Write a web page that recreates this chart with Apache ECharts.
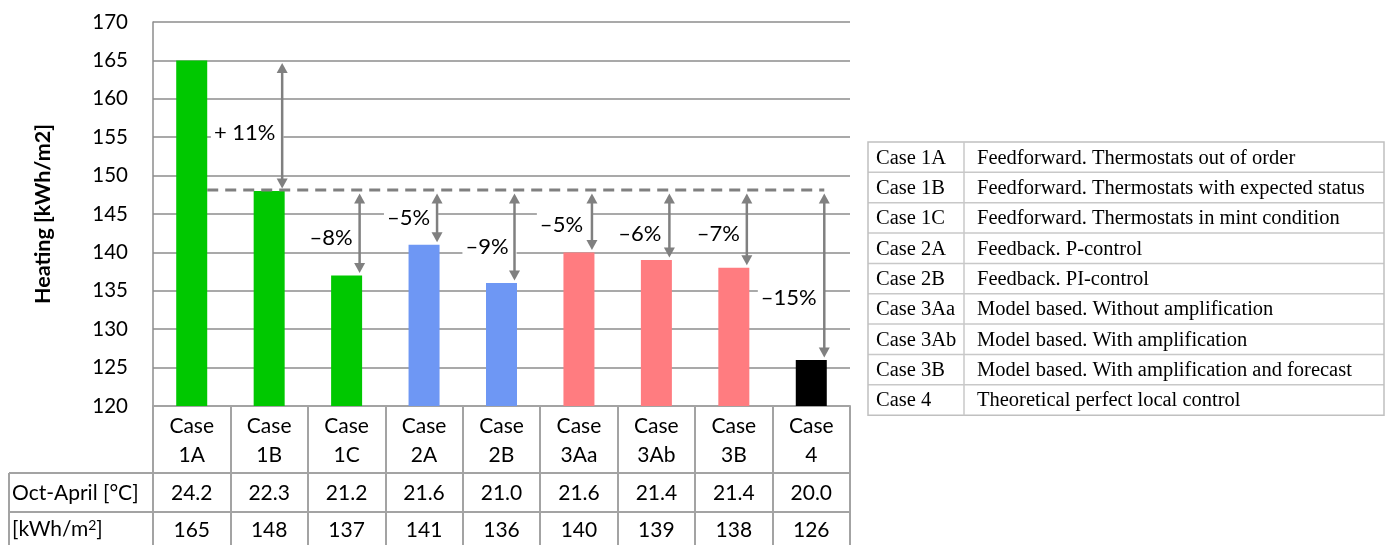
<!DOCTYPE html>
<html>
<head>
<meta charset="utf-8">
<script src="https://cdn.jsdelivr.net/npm/echarts@6/dist/echarts.min.js"></script>
<style>
  html, body { margin: 0; padding: 0; background: #fff; }
  #chart { width: 1389px; height: 545px; }
</style>
</head>
<body>
<div id="chart"></div>
<script>
// ---- Data: annual heating demand per control strategy (Oct–April) ----
const cases = ['Case 1A', 'Case 1B', 'Case 1C', 'Case 2A', 'Case 2B', 'Case 3Aa', 'Case 3Ab', 'Case 3B', 'Case 4'];
const heating = [165, 148, 137, 141, 136, 140, 139, 138, 126];          // kWh/m2
const indoorTemp = ['24.2', '22.3', '21.2', '21.6', '21.0', '21.6', '21.4', '21.4', '20.0']; // °C
const changeText = ['+ 11%', '', '–8%', '–5%', '–9%', '–5%', '–6%', '–7%', '–15%'];
const baselineIndex = 1; // Case 1B: thermostats with expected status
const descriptions = [
  'Feedforward. Thermostats out of order',
  'Feedforward. Thermostats with expected status',
  'Feedforward. Thermostats in mint condition',
  'Feedback. P-control',
  'Feedback. PI-control',
  'Model based. Without amplification',
  'Model based. With amplification',
  'Model based. With amplification and forecast',
  'Theoretical perfect local control'
];
const yMin = 120, yMax = 170, yStep = 5;
const yTitle = 'Heating [kWh/m2]';
const tempRowTitle = 'Oct-April [°C]';

// ---- Styling / layout ----
const groupColor = { '1': '#00c800', '2': '#6e97f4', '3': '#ff7c80', '4': '#000000' };
const FONT = 'Lato';
const SERIF = '"Liberation Serif"';
const GRID = { left: 153, top: 22, right: 539, bottom: 139 };
const BAR_W = 31;
const ARROW_DX = 13;          // arrows sit just inside the right edge of the bar
const ARROW_COLOR = '#808080';
const TABLE_LINE = '#a3a3a3';
// label placement for each change annotation: [horizontal shift from arrow (px), height on value axis]
const changeLabelPlace = [[-35, 155.5], null, [-26, 141.9], [-26, 144.5], [-25, 140.7],
                          [-28, 143.6], [-27, 142.4], [-26, 142.4], [-33, 134.1]];

const baseline = heating[baselineIndex];

// arrows: [column, fromValue, toValue, caseIndex]
const arrows = [];
heating.forEach((v, i) => {
  if (i === baselineIndex) return;
  if (v > baseline) arrows.push([baselineIndex, v, baseline, i]);
  else arrows.push([i, baseline, v, i]);
});

const chart = echarts.init(document.getElementById('chart'));

function renderArrow(params, api) {
  const col = api.value(0), from = api.value(1), to = api.value(2), ci = api.value(3);
  const p1 = api.coord([col, from]);
  const p2 = api.coord([col, to]);
  const x = p1[0] + ARROW_DX;
  const dir = p2[1] > p1[1] ? 1 : -1;
  const inset = 2.5, head = 10, hw = 5.5;
  const y1 = p1[1] + dir * inset;
  const y2 = p2[1] - dir * inset;
  const children = [];
  const place = changeLabelPlace[ci];
  if (place && changeText[ci]) {
    children.push({
      type: 'text',
      x: x + place[0],
      y: api.coord([col, place[1]])[1],
      style: {
        text: changeText[ci],
        fill: '#000',
        font: '22px ' + FONT,
        align: 'center', verticalAlign: 'middle',
        textAlign: 'center', textVerticalAlign: 'middle',
        backgroundColor: '#fff',
        padding: [1, 8, 1, 3]
      }
    });
  }
  children.push({
    type: 'line',
    shape: { x1: x, y1: y1 + dir * (head - 1), x2: x, y2: y2 - dir * (head - 1) },
    style: { stroke: ARROW_COLOR, lineWidth: 2.5 }
  });
  children.push({
    type: 'polygon',
    shape: { points: [[x, y1], [x - hw, y1 + dir * head], [x + hw, y1 + dir * head]] },
    style: { fill: ARROW_COLOR }
  });
  children.push({
    type: 'polygon',
    shape: { points: [[x, y2], [x - hw, y2 - dir * head], [x + hw, y2 - dir * head]] },
    style: { fill: ARROW_COLOR }
  });
  return { type: 'group', children };
}

function renderBaseline(params, api) {
  const a = api.coord([api.value(0), api.value(2)]);
  const b = api.coord([api.value(1), api.value(2)]);
  return {
    type: 'line',
    shape: { x1: a[0] + BAR_W / 2, y1: a[1] - 1, x2: b[0] + ARROW_DX, y2: b[1] - 1 },
    style: { stroke: '#808080', lineWidth: 3, lineDash: [11, 7] }
  };
}

// category-row axes beneath the plot form the data table
function tableAxis(offset, tickLen, margin, lineHeight, formatter) {
  return {
    type: 'category',
    data: cases,
    position: 'bottom',
    offset: offset,
    axisLine: { show: true, lineStyle: { color: TABLE_LINE, width: 2 } },
    axisTick: { show: true, interval: 0, length: tickLen, lineStyle: { color: TABLE_LINE, width: 2 } },
    axisLabel: {
      interval: 0, margin: margin, color: '#000',
      fontFamily: FONT, fontSize: 21, lineHeight: lineHeight,
      formatter: formatter
    },
    splitLine: { show: false }
  };
}

// description table at the right
const legendBox = { left: 868, top: 142, width: 516, colSplit: 964 };
const rowH = 30.35;
const graphics = [];
descriptions.forEach((d, i) => {
  const y = legendBox.top + i * rowH;
  graphics.push({ type: 'text', x: legendBox.left + 8, y: y + rowH / 2 + 1,
    style: { text: cases[i], font: '20.5px ' + SERIF, fill: '#000', verticalAlign: 'middle', textVerticalAlign: 'middle' } });
  graphics.push({ type: 'text', x: legendBox.colSplit + 13, y: y + rowH / 2 + 1,
    style: { text: d, font: '20.5px ' + SERIF, fill: '#000', verticalAlign: 'middle', textVerticalAlign: 'middle' } });
  if (i > 0) graphics.push({ type: 'line', shape: { x1: legendBox.left, y1: y, x2: legendBox.left + legendBox.width, y2: y },
    style: { stroke: '#c8c8c8', lineWidth: 1.5 } });
});
graphics.push({ type: 'rect', shape: { x: legendBox.left, y: legendBox.top, width: legendBox.width, height: rowH * descriptions.length },
  style: { fill: 'none', stroke: '#c0c0c0', lineWidth: 1.5 } });
graphics.push({ type: 'line', shape: { x1: legendBox.colSplit, y1: legendBox.top, x2: legendBox.colSplit, y2: legendBox.top + rowH * descriptions.length },
  style: { stroke: '#c8c8c8', lineWidth: 1.5 } });

// row titles on the left of the data table
const rowTop = [473, 512], rowBottom = 548, tableLeft = 9;
graphics.push({ type: 'line', shape: { x1: tableLeft, y1: rowTop[0], x2: GRID.left, y2: rowTop[0] }, style: { stroke: TABLE_LINE, lineWidth: 2 } });
graphics.push({ type: 'line', shape: { x1: tableLeft, y1: rowTop[1], x2: GRID.left, y2: rowTop[1] }, style: { stroke: TABLE_LINE, lineWidth: 2 } });
graphics.push({ type: 'line', shape: { x1: tableLeft, y1: rowTop[0], x2: tableLeft, y2: rowBottom }, style: { stroke: TABLE_LINE, lineWidth: 2 } });
graphics.push({ type: 'text', x: tableLeft + 3, y: (rowTop[0] + rowTop[1]) / 2 + 1,
  style: { text: tempRowTitle, font: '21px ' + FONT, fill: '#000', verticalAlign: 'middle', textVerticalAlign: 'middle' } });
graphics.push({ type: 'text', x: tableLeft + 3, y: (rowTop[1] + 545) / 2 + 1,
  style: {
    text: '[kWh/m{sup|2}]',
    font: '21px ' + FONT, fill: '#000', verticalAlign: 'middle', textVerticalAlign: 'middle',
    rich: { sup: { fontFamily: FONT, fontSize: 14, verticalAlign: 'top', padding: [0, 0, 9, 0] } }
  } });

const option = {
  backgroundColor: '#fff',
  animation: false,
  grid: GRID,
  xAxis: [
    tableAxis(0, 67, 6, 28.5, v => v.replace(' ', '\n')),
    tableAxis(67, 39, 9, 22, (v, i) => indoorTemp[i]),
    tableAxis(106, 40, 7, 22, (v, i) => String(heating[i]))
  ],
  yAxis: {
    type: 'value',
    min: yMin, max: yMax, interval: yStep,
    name: yTitle,
    nameLocation: 'middle',
    nameRotate: 90,
    nameGap: 99,
    nameTextStyle: { fontFamily: FONT, fontSize: 21.5, fontWeight: 'bold', color: '#000' },
    axisLine: { show: true, lineStyle: { color: '#8c8c8c', width: 1.5 } },
    axisTick: { show: false },
    axisLabel: { margin: 25, fontFamily: FONT, fontSize: 20.5, color: '#000' },
    splitLine: { show: true, lineStyle: { color: '#8c8c8c', width: 1.5 } }
  },
  series: [
    {
      type: 'bar',
      xAxisIndex: 0,
      barWidth: BAR_W,
      z: 2,
      data: heating.map((v, i) => ({
        value: v,
        itemStyle: { color: groupColor[cases[i].replace('Case ', '')[0]] }
      }))
    },
    {
      type: 'custom',
      xAxisIndex: 0,
      z: 3,
      renderItem: renderBaseline,
      encode: { x: 0, y: 2 },
      data: [[0, heating.length - 1, baseline]]
    },
    {
      type: 'custom',
      xAxisIndex: 0,
      z: 4,
      renderItem: renderArrow,
      encode: { x: 0, y: [1, 2] },
      data: arrows
    }
  ],
  graphic: graphics
};

chart.setOption(option);
</script>
</body>
</html>
